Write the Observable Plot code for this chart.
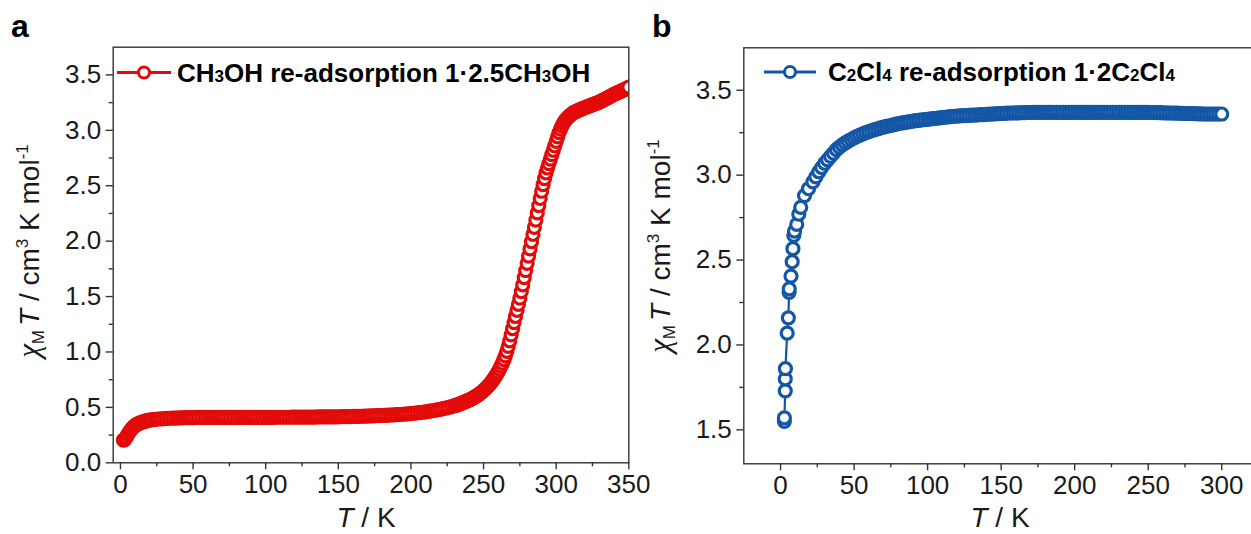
<!DOCTYPE html>
<html>
<head>
<meta charset="utf-8">
<script src="https://cdn.jsdelivr.net/npm/d3@7"></script>
<script src="https://cdn.jsdelivr.net/npm/@observablehq/plot@0.6"></script>
<style>
  html, body { margin: 0; padding: 0; background: #fff; overflow: hidden; }
  #wrap { position: relative; width: 1251px; height: 534px; overflow: hidden; }
  #pa, #pb { position: absolute; top: 0; }
  #pa { left: 0; width: 640px; }
  #pb { left: 640px; width: 640px; }
  svg { overflow: visible; max-width: none !important; }
</style>
</head>
<body>
<div id="wrap"><div id="pa"></div><div id="pb"></div></div>
<script>
// ---------- Panel a: CH3OH re-adsorption ----------
const tempA = [2,3,4,5,6,7,8,9,10,11,12,13,14,15,16,17,18,19,20,
  22,24,26,28,30,32,34,36,38,40,42,44,46,48,50,52,54,56,58,60,
  62,64,66,68,70,72,74,76,78,80,82,84,86,88,90,92,94,96,98,100,
  102,104,106,108,110,112,114,116,118,120,122,124,126,128,130,132,134,136,138,140,142,144,146,148,150,
  152,154,156,158,160,162,164,166,168,170,172,174,176,178,180,182,184,186,188,190,192,194,196,198,200,
  202,204,206,208,210,212,214,216,218,220,222,224,226,228,230,
  231,232,233,234,235,236,237,238,239,240,
  241,242,243,244,245,246,247,248,249,250,
  251,252,253,254,255,256,257,258,259,260,
  261,262,263,264,265,266,267,268,269,270,
  271,272,273,274,275,276,277,278,279,280,
  281,282,283,284,285,286,287,288,289,290,
  291,292,293,294,295,296,297,298,299,300,
  301,302,303,304,305,306,307,308,309,310,
  311,312,313,314,315,316,317,318,319,320,
  321,322,323,324,325,326,327,328,329,330,
  331,332,333,334,335,336,337,338,339,340,
  341,342,343,344,345,346,347,348,349,350];
const chiTA = [0.205,0.21,0.23,0.255,0.275,0.295,0.31,0.325,0.335,0.345,0.352,0.358,0.363,0.368,0.372,0.376,0.379,0.382,0.385,
  0.389,0.392,0.395,0.397,0.399,0.4,0.402,0.403,0.404,0.405,0.406,0.407,0.407,0.408,0.408,0.409,0.409,0.41,0.41,0.41,
  0.41,0.41,0.41,0.41,0.41,0.41,0.41,0.41,0.41,0.41,0.41,0.41,0.41,0.41,0.41,0.41,0.41,0.41,0.41,0.41,
  0.41,0.41,0.41,0.411,0.411,0.411,0.411,0.411,0.412,0.412,0.412,0.412,0.412,0.413,0.413,0.413,0.413,0.414,0.414,0.414,0.414,0.415,0.415,0.415,0.415,
  0.416,0.416,0.417,0.417,0.418,0.419,0.419,0.42,0.421,0.422,0.423,0.424,0.425,0.426,0.427,0.428,0.43,0.431,0.433,0.434,0.436,0.438,0.44,0.442,0.444,
  0.447,0.45,0.453,0.456,0.46,0.464,0.468,0.472,0.477,0.482,0.488,0.494,0.5,0.507,0.515,
  0.519,0.523,0.528,0.533,0.538,0.543,0.549,0.555,0.561,0.566,
  0.572,0.579,0.586,0.594,0.602,0.611,0.62,0.63,0.641,0.652,
  0.664,0.677,0.691,0.706,0.722,0.739,0.757,0.777,0.798,0.82,
  0.845,0.872,0.9,0.93,0.965,1.005,1.05,1.1,1.155,1.21,
  1.265,1.32,1.375,1.43,1.485,1.545,1.605,1.67,1.735,1.8,
  1.865,1.93,1.995,2.06,2.125,2.19,2.255,2.32,2.385,2.45,
  2.51,2.565,2.615,2.66,2.7,2.74,2.78,2.82,2.86,2.9,
  2.94,2.98,3.01,3.04,3.065,3.085,3.1,3.115,3.128,3.14,
  3.15,3.16,3.166,3.172,3.178,3.184,3.19,3.195,3.2,3.206,
  3.211,3.216,3.221,3.226,3.231,3.236,3.241,3.246,3.251,3.256,
  3.263,3.27,3.277,3.284,3.291,3.298,3.305,3.312,3.319,3.326,
  3.332,3.338,3.344,3.35,3.356,3.362,3.368,3.374,3.38,3.39];

// ---------- Panel b: C2Cl4 re-adsorption ----------
const tempB = [2.6,2.6,3.2,3.2,3.3,4.5,5.3,5.8,5.9,7.1,7.9,8.4,9,9.5,11,12.4,13.7,16.3,19,
  22,24,26,28,30,32,34,36,38,40,42,44,46,48,50,
  52,54,56,58,60,62,64,
  66,68,70,72,74,76,78,80,82,84,86,88,90,
  92,94,96,98,100,102,104,106,108,110,112,114,116,
  118,120,122,124,126,128,130,132,134,136,138,140,142,144,146,148,150,152,154,156,158,160,162,164,166,168,170,
  172,174,176,178,180,182,184,186,188,190,192,194,196,198,200,202,204,206,208,210,212,214,216,218,220,222,224,226,228,230,
  232,234,236,238,240,242,244,246,248,250,252,254,256,258,260,262,264,266,268,270,272,274,276,278,280,282,284,286,288,290,292,294,296,298,300];
const chiTB = [1.55,1.57,1.73,1.8,1.86,2.07,2.16,2.31,2.33,2.405,2.49,2.567,2.645,2.67,2.71,2.77,2.81,2.88,2.92,
  2.96,2.99,3.02,3.045,3.07,3.09,3.11,3.13,3.15,3.165,3.178,3.19,3.2,3.21,3.22,
  3.228,3.236,3.243,3.25,3.256,3.262,3.268,
  3.273,3.278,3.283,3.287,3.291,3.295,3.299,3.303,3.306,3.309,3.312,3.315,3.318,
  3.321,3.323,3.325,3.327,3.329,3.331,3.333,3.335,3.337,3.339,3.341,3.343,3.345,
  3.347,3.348,3.349,3.35,3.351,3.352,3.353,3.354,3.355,3.356,3.357,3.358,3.359,3.36,3.361,3.362,3.363,3.364,3.365,3.366,3.366,3.367,3.367,3.368,3.368,3.369,3.369,
  3.37,3.37,3.37,3.37,3.37,3.37,3.37,3.37,3.37,3.37,3.37,3.37,3.37,3.37,3.37,3.37,3.37,3.37,3.37,3.37,3.37,3.37,3.37,3.37,3.37,3.37,3.37,3.37,3.37,3.37,
  3.37,3.37,3.37,3.37,3.37,3.37,3.37,3.37,3.37,3.37,3.369,3.369,3.368,3.368,3.367,3.367,3.366,3.366,3.365,3.365,3.364,3.364,3.363,3.363,3.362,3.362,3.361,3.361,3.36,3.36,3.36,3.36,3.36,3.36,3.36];

// ---------- Axis ticks ----------
const xTicksA = [0,50,100,150,200,250,300,350];
const xMinorA = [25,75,125,175,225,275,325];
const yTicksA = [0,0.5,1,1.5,2,2.5,3,3.5];
const yMinorA = [0.25,0.75,1.25,1.75,2.25,2.75,3.25];
const xTicksB = [0,50,100,150,200,250,300];
const xMinorB = [25,75,125,175,225,275];
const yTicksB = [1.5,2,2.5,3,3.5];
const yMinorB = [1.75,2.25,2.75,3.25];

const RED = "#e30a0a";
const BLUE = "#1456a6";
const FONT = "'Liberation Sans', Arial, Helvetica, sans-serif";
const INK = "#1a1a1a";

const dataA = tempA.map((t, i) => ({T: t, v: chiTA[i]}));
const dataB = tempB.map((t, i) => ({T: t, v: chiTB[i]}));

function panel({data, color, width, mL, mR, mT, mB, xDomain, yDomain, xT, xM, yT, yM}) {
  return Plot.plot({
    width, height: 534,
    marginLeft: mL, marginRight: mR, marginTop: mT, marginBottom: mB,
    style: {fontFamily: FONT, color: INK, background: "transparent", overflow: "visible", maxWidth: "none"},
    x: {domain: xDomain},
    y: {domain: yDomain},
    marks: [
      Plot.axisX({ticks: xT, tickSize: 7, tickPadding: 5, fontSize: 26, label: null, tickFormat: d => String(d), strokeWidth: 1.4, stroke: "#333"}),
      Plot.axisX({ticks: xM, tickSize: 4, tickFormat: () => "", label: null, strokeWidth: 1.4, stroke: "#333"}),
      Plot.axisY({ticks: yT, tickSize: 7, tickPadding: 5, fontSize: 26, label: null, tickFormat: d3.format(".1f"), strokeWidth: 1.4, stroke: "#333"}),
      Plot.axisY({ticks: yM, tickSize: 4, tickFormat: () => "", label: null, strokeWidth: 1.4, stroke: "#333"}),
      Plot.line(data, {x: "T", y: "v", stroke: color, strokeWidth: 2.2, clip: true}),
      Plot.dot(data, {x: "T", y: "v", r: 6, stroke: color, strokeWidth: 3.2, fill: "white", clip: true}),
      Plot.frame({stroke: "#333", strokeWidth: 1.4})
    ]
  });
}

const plotA = panel({data: dataA, color: RED, width: 640, mL: 112.7, mR: 11.7, mT: 46.7, mB: 71.7,
  xDomain: [-5, 350], yDomain: [0, 3.75], xT: xTicksA, xM: xMinorA, yT: yTicksA, yM: yMinorA});
const plotB = panel({data: dataB, color: BLUE, width: 630, mL: 103.3, mR: 12, mT: 47.3, mB: 70.7,
  xDomain: [-25, 325], yDomain: [1.3, 3.75], xT: xTicksB, xM: xMinorB, yT: yTicksB, yM: yMinorB});

document.getElementById("pa").appendChild(plotA);
document.getElementById("pb").appendChild(plotB);

function decorate(svgNode, o) {
  const svg = d3.select(svgNode);
  // panel letter
  svg.append("text").attr("x", o.letterX).attr("y", 37).attr("text-anchor", "start")
    .style("font", `bold 32px ${FONT}`).attr("fill", "#000").text(o.letter);
  // y label
  const yl = svg.append("text")
    .attr("transform", `translate(${o.yLabelX},${o.yLabelY}) rotate(-90)`)
    .attr("text-anchor", "middle").attr("fill", INK)
    .style("font", `28px ${FONT}`);
  yl.append("tspan").style("font-family", "'Liberation Serif', 'DejaVu Serif', serif").style("font-style", "italic").style("font-size", "31px").text("χ");
  yl.append("tspan").style("font-size", "17px").attr("dy", 5).text("M");
  yl.append("tspan").attr("dy", -5).style("font-style", "italic").attr("dx", 4).text("T");
  yl.append("tspan").text(" / cm");
  yl.append("tspan").style("font-size", "17px").attr("dy", -11).text("3");
  yl.append("tspan").attr("dy", 11).text(" K mol");
  yl.append("tspan").style("font-size", "17px").attr("dy", -11).text("-1");
  // x label
  const xl = svg.append("text").attr("x", o.xLabelX).attr("y", 527)
    .attr("text-anchor", "middle").attr("fill", INK).style("font", `28px ${FONT}`);
  xl.append("tspan").style("font-style", "italic").text("T");
  xl.append("tspan").text(" / K");
  // legend
  const g = svg.append("g");
  g.append("line").attr("x1", o.legX1).attr("x2", o.legX2).attr("y1", o.legY).attr("y2", o.legY)
    .attr("stroke", o.color).attr("stroke-width", 3);
  g.append("circle").attr("cx", (o.legX1 + o.legX2) / 2).attr("cy", o.legY).attr("r", 5.5)
    .attr("fill", "white").attr("stroke", o.color).attr("stroke-width", 3);
  const lt = g.append("text").attr("x", o.legTextX).attr("y", o.legY + 9).attr("text-anchor", "start")
    .attr("fill", "#000").style("font", `bold 26px ${FONT}`);
  o.legParts.forEach(p => {
    const ts = lt.append("tspan").text(p.t);
    if (p.sub) ts.style("font-size", "17px");
  });
}

decorate(plotA, {letter: "a", letterX: 11, yLabelX: 39, yLabelY: 251, xLabelX: 366,
  legX1: 117, legX2: 171, legY: 72.5, legTextX: 177, color: RED,
  legParts: [{t: "CH"}, {t: "3", sub: true}, {t: "OH re-adsorption 1·2.5CH"}, {t: "3", sub: true}, {t: "OH"}]});
decorate(plotB, {letter: "b", letterX: 12, yLabelX: 30, yLabelY: 246, xLabelX: 360,
  legX1: 124, legX2: 176, legY: 72, legTextX: 188, color: BLUE,
  legParts: [{t: "C"}, {t: "2", sub: true}, {t: "Cl"}, {t: "4", sub: true}, {t: " re-adsorption 1·2C"}, {t: "2", sub: true}, {t: "Cl"}, {t: "4", sub: true}]});
</script>
</body>
</html>
